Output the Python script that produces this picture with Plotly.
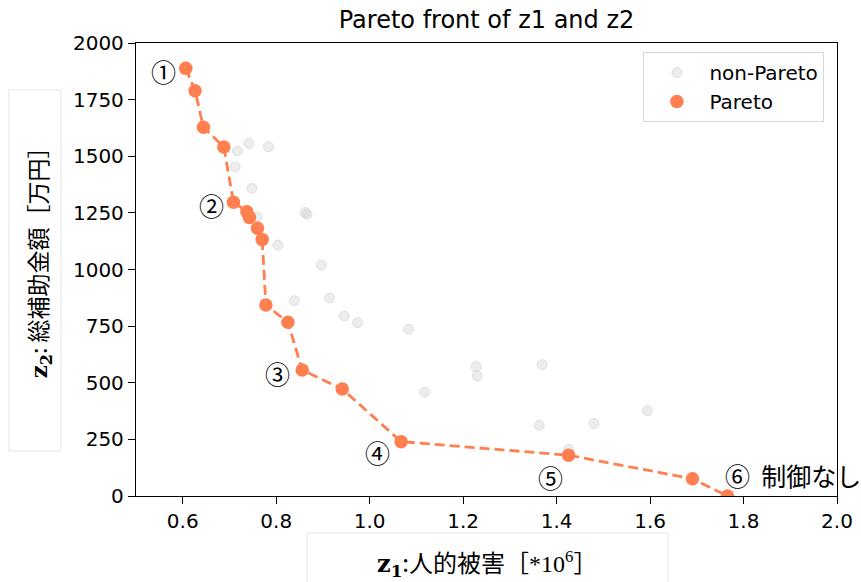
import plotly.graph_objects as go

# ---------------- data ----------------
pareto_z1 = [0.6065, 0.6264, 0.6442, 0.6879, 0.7085, 0.7372, 0.7428, 0.7599, 0.7700,
             0.7779, 0.8251, 0.8557, 0.9414, 1.0672, 1.4257, 1.6907, 1.7657]
pareto_z2 = [1888, 1789, 1628, 1541, 1297, 1255, 1230, 1182, 1133,
             843, 767, 556, 472, 240, 180, 76, 0]

non_pareto_z1 = [0.7171, 0.7415, 0.7835, 0.7121, 0.7479, 0.862, 0.866, 0.7586, 0.8036,
                 0.8964, 0.8385, 0.9142, 0.9457, 0.9742, 1.0828, 1.1177, 1.2279, 1.2300,
                 1.3693, 1.3629, 1.4799, 1.5943, 1.4257]
non_pareto_z2 = [1523, 1557, 1542, 1453, 1358, 1252, 1244, 1233, 1108,
                 1020, 862, 875, 795, 765, 736, 458, 571, 530,
                 580, 312, 319, 377, 206]

x_ticks = [0.6, 0.8, 1.0, 1.2, 1.4, 1.6, 1.8, 2.0]
y_ticks = [0, 250, 500, 750, 1000, 1250, 1500, 1750, 2000]

# labels attached to pareto points: (index, text)
point_labels = [(0, "①"), (4, "②"), (11, "③"), (13, "④"), (14, "⑤"), (16, "⑥  制御なし")]
label_style = {0: (-22, -3, "center"), 4: (-22, -3, "center"), 11: (-25, -3, "center"),
               13: (-24, -10, "center"), 14: (-18, -22, "center"), 16: (-5, 21, "left")}

CORAL = "#FF7F50"
CJK = "Noto Sans CJK JP"

fig = go.Figure()
fig.add_trace(go.Scatter(
    x=non_pareto_z1, y=non_pareto_z2, mode="markers", name="non-Pareto",
    marker=dict(size=10, color="rgba(211,211,211,0.42)",
                line=dict(color="rgba(180,180,180,0.35)", width=1)),
))
fig.add_trace(go.Scatter(
    x=pareto_z1, y=pareto_z2, mode="lines", showlegend=False,
    line=dict(color=CORAL, width=2.8, dash="10px,5px"),
))
fig.add_trace(go.Scatter(
    x=pareto_z1, y=pareto_z2, mode="markers", name="Pareto",
    marker=dict(size=13.5, color=CORAL),
))

for idx, txt in point_labels:
    dx, dy, anchor = label_style[idx]
    fig.add_annotation(x=pareto_z1[idx], y=pareto_z2[idx], text=txt, showarrow=False,
                       xshift=dx, yshift=dy, xanchor=anchor, yanchor="middle",
                       font=dict(family=CJK, size=25, color="black"))

# axis label boxes
fig.add_shape(type="rect", xref="paper", yref="paper",
              x0=-0.1812, x1=-0.107, y0=0.0993, y1=0.8962,
              line=dict(color="#e4e4e4", width=1), layer="below")
fig.add_shape(type="rect", xref="paper", yref="paper",
              x0=0.2439, x1=0.7589, y0=-0.25, y1=-0.0817,
              line=dict(color="#e4e4e4", width=1), layer="below")

serif = 'font-family:\'DejaVu Serif\''
lserif = 'font-family:\'Liberation Serif\''
fig.add_annotation(
    xref="paper", yref="paper", x=-0.1398, y=0.527, textangle=-90, showarrow=False,
    text=f'<span style="{serif}"><b>z</b><sub><b>2</b></sub></span>: 総補助金額［万円］',
    font=dict(family=CJK, size=23, color="black"), xanchor="center", yanchor="middle",
)
fig.add_annotation(
    xref="paper", yref="paper", x=0.5, y=-0.1457, showarrow=False,
    text=f'<span style="{serif}"><b>z</b><sub><b>1</b></sub></span>:人的被害［<span style="{lserif}">*10<sup>6</sup></span>］',
    font=dict(family=CJK, size=24, color="black"), xanchor="center", yanchor="middle",
)

axis_common = dict(showline=True, linecolor="black", linewidth=1.3, mirror=True,
                   ticks="outside", ticklen=7, tickwidth=1.3, tickcolor="black",
                   showgrid=False, zeroline=False,
                   tickfont=dict(family="DejaVu Sans", size=20, color="black"))

fig.update_layout(
    width=861, height=582,
    margin=dict(l=136, r=24, t=43, b=86, autoexpand=False),
    paper_bgcolor="white", plot_bgcolor="white",
    title=dict(text="Pareto front of z1 and z2", x=0.5, xref="paper",
               y=1 - 20 / 582, yanchor="middle",
               font=dict(family="DejaVu Sans", size=24, color="black")),
    xaxis=dict(range=[0.5, 2.0], tickvals=x_ticks, tickformat=".1f", **axis_common),
    yaxis=dict(range=[0, 2000], tickvals=y_ticks, **axis_common),
    legend=dict(x=0.982, xanchor="right", y=0.98, yanchor="top",
                bordercolor="#d6d6d6", borderwidth=1, bgcolor="rgba(255,255,255,0.8)",
                font=dict(family="DejaVu Sans", size=20, color="black"),
                itemwidth=55),
    showlegend=True,
)

fig.write_html("out.html", config={"displayModeBar": False},
               post_script="document.body.style.margin='0px';")
